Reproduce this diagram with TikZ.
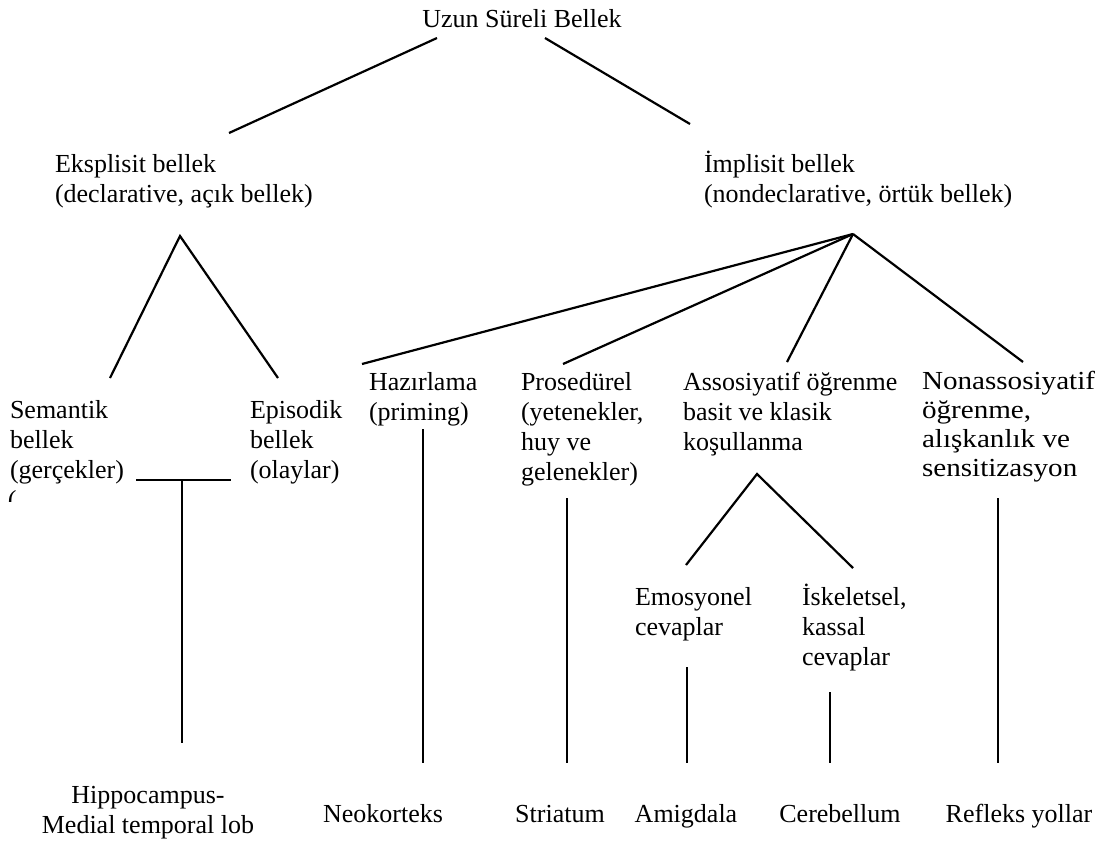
\documentclass[tikz,border=0pt]{standalone}
\usepackage{fontspec}
\setmainfont{Liberation Serif}
\newfontfamily\widefont[FakeStretch=1.12]{Liberation Serif}
\newcommand\fs{\fontsize{26}{30}\selectfont}
\newcommand\wfs{\widefont\fontsize{26}{29}\selectfont}
\begin{document}
\begin{tikzpicture}[x=1pt,y=-1pt,
  txt/.style={inner sep=0pt,outer sep=0pt,anchor=north west,align=left,font=\fs},
  ctxt/.style={inner sep=0pt,outer sep=0pt,anchor=north,align=center,font=\fs},
  ln/.style={line width=2.2pt}]
\fill[white] (0,0) rectangle (1110,844);
\useasboundingbox (0,0) rectangle (1110,844);
% texts (north = first baseline - 0.7 baselineskip)
\node[ctxt] (title) at (522,6) {\strut Uzun Süreli Bellek};
\node[txt] (expl) at (55,151) {\strut Eksplisit bellek\\(declarative, açık bellek)};
\node[txt] (impl) at (704,151) {\strut İmplisit bellek\\(nondeclarative, örtük bellek)};
\node[txt] (sem) at (10,397) {\strut Semantik\\bellek\\(gerçekler)};
\node[txt] (epi) at (250,397) {\strut Episodik\\bellek\\(olaylar)};
\node[txt] (haz) at (369,369) {\strut Hazırlama\\(priming)};
\node[txt] (pros) at (521,369) {\strut Prosedürel\\(yetenekler,\\huy ve\\gelenekler)};
\node[txt] (assoc) at (683,369) {\strut Assosiyatif öğrenme\\basit ve klasik\\koşullanma};
\node[txt,font=\wfs] (nonassoc) at (922,368.7) {\strut Nonassosiyatif\\öğrenme,\\alışkanlık ve\\sensitizasyon};
\node[txt] (emo) at (635,584) {\strut Emosyonel\\cevaplar};
\node[txt] (isk) at (802,584) {\strut İskeletsel,\\kassal\\cevaplar};
\node[ctxt] (hip) at (148,782) {\strut Hippocampus-\\Medial temporal lob};
\node[ctxt] (neo) at (383,801) {\strut Neokorteks};
\node[ctxt] (str) at (560,801) {\strut Striatum};
\node[ctxt] (amig) at (686,801) {\strut Amigdala};
\node[ctxt] (cere) at (840,801) {\strut Cerebellum};
\node[ctxt] (ref) at (1019,801) {\strut Refleks yollar};
\begin{scope}
\clip (0,486) rectangle (40,501);
\node[txt] (stray) at (8,487) {\strut (};
\end{scope}
% connector points
\coordinate (tL) at (437,38);
\coordinate (tR) at (545,38);
\coordinate (eTop) at (229,133);
\coordinate (iTop) at (690,124);
\coordinate (eA) at (180,236);
\coordinate (semT) at (110,378);
\coordinate (epiT) at (278,378);
\coordinate (iA) at (853,234);
\coordinate (hazT) at (362,364);
\coordinate (prosT) at (563,364);
\coordinate (assocT) at (787,362);
\coordinate (nonT) at (1023,362);
\coordinate (hL) at (136,480);
\coordinate (hR) at (231,480);
\coordinate (hM) at (182,480);
\coordinate (hipT) at (182,743);
\coordinate (hazB) at (423,429);
\coordinate (neoT) at (423,763);
\coordinate (prosB) at (567,498);
\coordinate (strT) at (567,763);
\coordinate (nonB) at (998,498);
\coordinate (refT) at (998,763);
\coordinate (aA) at (757,474);
\coordinate (emoT) at (686,565);
\coordinate (iskT) at (853,568);
\coordinate (emoB) at (687,667);
\coordinate (amigT) at (687,763);
\coordinate (iskB) at (830,692);
\coordinate (cereT) at (830,763);
% connectors
\draw[ln] (tL) -- (eTop);
\draw[ln] (tR) -- (iTop);
\draw[ln] (semT) -- (eA) -- (epiT);
\draw[ln] (iA) -- (hazT);
\draw[ln] (iA) -- (prosT);
\draw[ln] (iA) -- (assocT);
\draw[ln] (iA) -- (nonT);
\draw[ln] (hL) -- (hR);
\draw[ln] (hM) -- (hipT);
\draw[ln] (hazB) -- (neoT);
\draw[ln] (prosB) -- (strT);
\draw[ln] (nonB) -- (refT);
\draw[ln] (emoT) -- (aA) -- (iskT);
\draw[ln] (emoB) -- (amigT);
\draw[ln] (iskB) -- (cereT);
\end{tikzpicture}
\end{document}
